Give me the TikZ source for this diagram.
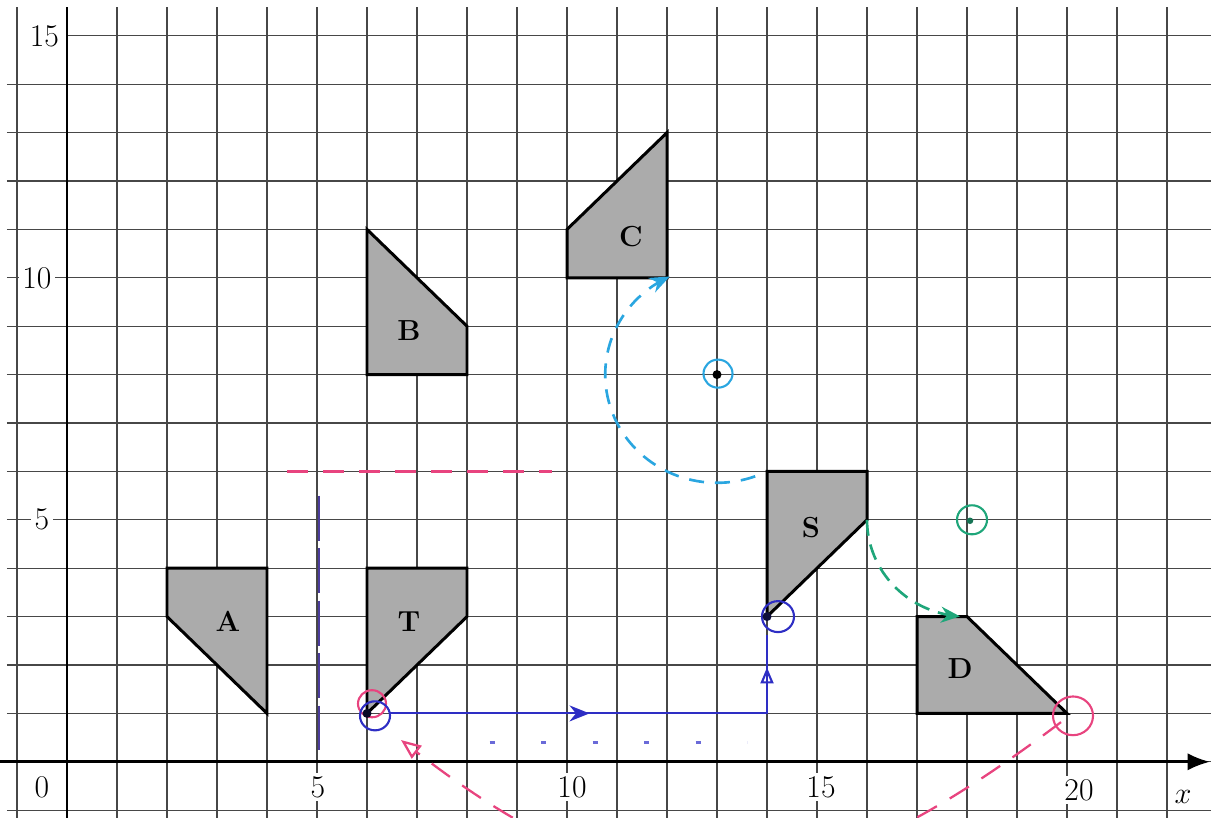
\documentclass[tikz,border=0pt]{standalone}
\usetikzlibrary{arrows.meta}
\definecolor{penpink}{HTML}{E8447F}
\definecolor{penblue}{HTML}{2E2EC4}
\definecolor{penlight}{HTML}{6A6AD8}
\definecolor{penpurple}{HTML}{4B3C9C}
\definecolor{pencyan}{HTML}{2AA6E0}
\definecolor{pengreen}{HTML}{1FA67A}
\definecolor{shapegray}{HTML}{ABABAB}
\begin{document}
\begin{tikzpicture}[x=1cm,y=0.968cm,
  gridline/.style={draw=black!72, line width=0.65pt},
  axisline/.style={draw=black, line width=1.7pt},
  polyshape/.style={fill=shapegray, draw=black, line width=1.7pt, line join=miter},
  shapelbl/.style={font=\bfseries\fontsize{16.5}{18}\selectfont, inner sep=0pt},
  ticklbl/.style={font=\fontsize{18}{20}\selectfont, fill=white, inner sep=2pt},
  ring/.style={line width=1.2pt},
  pendot/.style={circle, fill=#1, inner sep=0pt, minimum size=0.18cm},
  pinkdash/.style={draw=penpink, line width=1.3pt, dash pattern=on 0.45cm off 0.3cm},
  cyandash/.style={draw=pencyan, line width=1.5pt, dash pattern=on 0.3cm off 0.22cm},
  greendash/.style={draw=pengreen, line width=1.5pt, dash pattern=on 0.32cm off 0.18cm},
  purpledash/.style={draw=penpurple, line width=1.6pt, dash pattern=on 0.9cm off 0.15cm},
  ]
\useasboundingbox (-1.34,-1.157) rectangle (22.88,15.74);
\clip (-1.34,-1.157) rectangle (22.88,15.74);
% grid
\foreach \i in {-1,...,22} \draw[gridline] (\i,-1.2) -- (\i,15.6);
\foreach \j in {-1,...,14} \draw[gridline] (-1.2,\j) -- (22.9,\j);
\draw[gridline] (0,15) -- (22.9,15);
% axes
\draw[axisline] (0,-1.2) -- (0,15.6);
\coordinate (xstart) at (-1.34,0);
\coordinate (xend) at (22.86,0);
\draw[axisline, -{Latex[length=0.45cm,width=0.35cm]}] (xstart) -- (xend);
% tick labels
\node[ticklbl] (y15) at (-0.45,15) {15};
\node[ticklbl] (y10) at (-0.6,10) {10};
\node[ticklbl] (y5) at (-0.5,5) {5};
\node[ticklbl] (o0) at (-0.5,-0.52) {0};
\node[ticklbl] (x5) at (5.02,-0.52) {5};
\node[ticklbl] (x10) at (10.1,-0.52) {10};
\node[ticklbl] (x15) at (15.08,-0.52) {15};
\node[ticklbl] (x20) at (20.24,-0.58) {20};
\node[font=\fontsize{18}{20}\selectfont, inner sep=1pt] (xlbl) at (22.32,-0.72) {$x$};
% shapes
\draw[polyshape] (2,4) -- (4,4) -- (4,1) -- (2,3) -- cycle;
\draw[polyshape] (6,4) -- (8,4) -- (8,3) -- (6,1) -- cycle;
\draw[polyshape] (6,11) -- (8,9) -- (8,8) -- (6,8) -- cycle;
\draw[polyshape] (10,11) -- (12,13) -- (12,10) -- (10,10) -- cycle;
\draw[polyshape] (14,6) -- (16,6) -- (16,5) -- (14,3) -- cycle;
\draw[polyshape] (17,3) -- (18,3) -- (20,1) -- (17,1) -- cycle;
\node[shapelbl] (lA) at (3.22,2.9) {A};
\node[shapelbl] (lT) at (6.84,2.9) {T};
\node[shapelbl] (lB) at (6.84,8.9) {B};
\node[shapelbl] (lC) at (11.28,10.85) {C};
\node[shapelbl] (lS) at (14.88,4.85) {S};
\node[shapelbl] (lD) at (17.86,1.92) {D};
% key points
\coordinate (T0) at (6,1);
\coordinate (S0) at (14,3);
\coordinate (cC) at (13,8);
\coordinate (cD) at (18,5);
% magenta / purple construction lines
\coordinate (ph1) at (4.4,6);
\coordinate (ph2) at (9.7,6);
\draw[draw=penpink, line width=1.3pt, dash pattern=on 0.42cm off 0.3cm] (ph1) -- (ph2);
\coordinate (pv1) at (5.04,5.5);
\coordinate (pv2) at (5.04,0.25);
\draw[purpledash] (pv1) -- (pv2);
% blue path
\coordinate (b1) at (6.45,1);
\coordinate (bm) at (10.45,1);
\coordinate (bc) at (14,1);
\coordinate (bu) at (14,1.95);
\coordinate (b2) at (14,2.62);
\draw[penblue, line width=1.2pt] (b1) -- (bc) -- (b2);
\draw[penblue, line width=1.2pt, -{Stealth[length=0.4cm,width=0.32cm]}] (b1) -- (bm);
\draw[penblue, line width=1.2pt, -{Triangle[open,length=0.32cm,width=0.26cm]}] (bc) -- (bu);
\coordinate (bd1) at (8.45,0.4);
\coordinate (bd2) at (13.6,0.4);
\draw[penlight, line width=1.2pt, dash pattern=on 0.1cm off 0.93cm] (bd1) -- (bd2);
% pink arc below
\coordinate (pk1) at (19.88,0.82);
\coordinate (pk2) at (6.68,0.45);
\draw[pinkdash, -{Triangle[open,length=0.4cm,width=0.32cm]}] (pk1) .. controls (14.7,-3.2) and (11.7,-3.55) .. (pk2);
% cyan rotation S -> C
\draw[cyandash, -{Stealth[length=0.4cm,width=0.32cm]}] plot[domain=-70:-245, samples=70] ({13+2.236*cos(\x)},{8+2.236*sin(\x)});
% green rotation S -> D
\draw[greendash, -{Stealth[length=0.38cm,width=0.32cm]}] plot[domain=180:266, samples=40] ({18+2*cos(\x)},{5+2*sin(\x)});
% rings and dots
\draw[ring, penpink] (6.1,1.2) circle (0.28);
\draw[ring, penblue] (6.16,0.95) circle (0.3);
\node[pendot=black!80!penblue] (dT) at (T0) {};
\draw[ring, penblue] (14.22,3.0) circle (0.32);
\node[pendot=black!70!penblue] (dS) at (S0) {};
\draw[ring, pencyan] (13.02,8.02) circle (0.29);
\node[pendot=black] (dC) at (cC) {};
\draw[ring, pengreen] (18.1,5.0) circle (0.3);
\node[pendot=pengreen!70!black, minimum size=0.13cm] (dD) at (18.06,4.98) {};
\draw[ring, penpink] (20.12,0.95) circle (0.4);
\end{tikzpicture}
\end{document}
